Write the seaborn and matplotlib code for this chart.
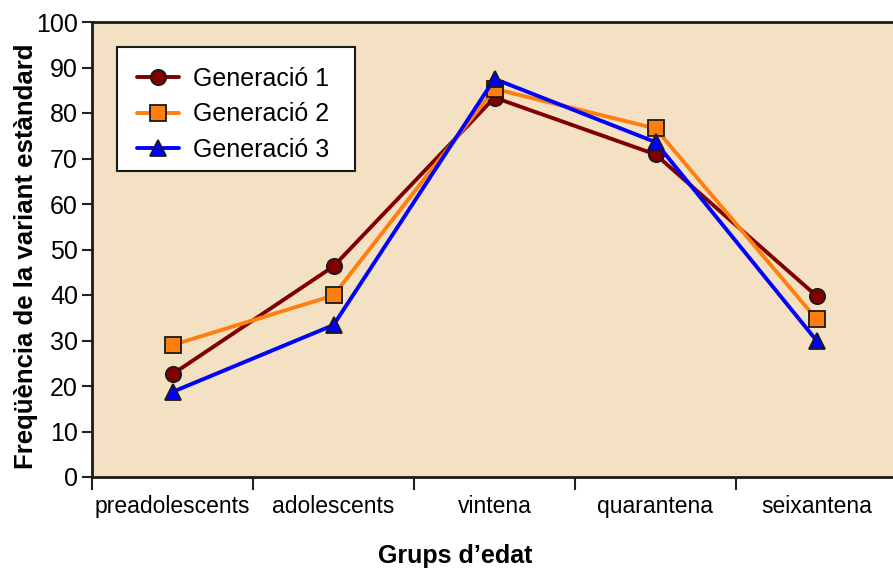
import matplotlib
matplotlib.use("Agg")
import matplotlib.pyplot as plt
import seaborn as sns
import pandas as pd
from matplotlib.ticker import FixedLocator
from matplotlib.lines import Line2D
from matplotlib.patches import Rectangle

categories = ["preadolescents", "adolescents", "vintena", "quarantena", "seixantena"]
gen1 = [22.6, 46.3, 83.4, 70.9, 39.8]
gen2 = [29.0, 39.9, 85.3, 76.6, 34.7]
gen3 = [18.7, 33.4, 87.5, 73.6, 30.0]
series_names = ["Generació 1", "Generació 2", "Generació 3"]
yticks = list(range(0, 101, 10))

rows = []
for name, vals in zip(series_names, [gen1, gen2, gen3]):
    for i, v in enumerate(vals):
        rows.append({"x": i, "y": v, "serie": name})
df = pd.DataFrame(rows)

sns.set_theme(style="white")
plt.rcParams["font.family"] = ["Liberation Sans", "DejaVu Sans"]
plt.rcParams["text.color"] = "black"
plt.rcParams["axes.labelcolor"] = "black"
plt.rcParams["xtick.color"] = "black"
plt.rcParams["ytick.color"] = "black"

fig = plt.figure(figsize=(8.93, 5.68), dpi=100)
ax = fig.add_axes([92/893, 1-477/568, 805/893, 455/568])
ax.set_facecolor("#F4E0C3")

palette = {"Generació 1": "#800000", "Generació 2": "#FF7F0E", "Generació 3": "#0000FF"}
markers = {"Generació 1": "o", "Generació 2": "s", "Generació 3": "^"}
sns.lineplot(data=df, x="x", y="y", hue="serie", style="serie", palette=palette,
             markers=markers, dashes=False, linewidth=2.8, markersize=11,
             markeredgecolor="#1a1a1a", markeredgewidth=1.3, ax=ax, legend=False)

ax.set_xlim(-0.5, 4.5)
ax.set_ylim(0, 100)
ax.set_yticks(yticks)
ax.set_xticks(range(len(categories)))
ax.set_xticklabels(categories)
ax.xaxis.set_minor_locator(FixedLocator([-0.5, 0.5, 1.5, 2.5, 3.5]))
ax.tick_params(axis="x", which="major", length=0, pad=13, labelsize=16.5, labelcolor="black")
ax.tick_params(axis="x", which="minor", length=9, width=1.5, color="#222222", bottom=True)
ax.tick_params(axis="y", which="major", length=7, width=1.5, color="#222222", left=True,
               labelsize=18, pad=3, labelcolor="black")
for s in ["left", "bottom", "top"]:
    ax.spines[s].set_color("#1a1a1a")
    ax.spines[s].set_linewidth(2)
ax.spines["right"].set_visible(False)

ax.set_xlabel("Grups d\u2019edat", fontsize=18, fontweight="bold", labelpad=19)
ax.xaxis.label.set_x(0.451)
ax.set_ylabel("Freqüència de la variant estàndard", fontsize=18.5, fontweight="bold", labelpad=-1)
ax.yaxis.label.set_y(0.486)

# legend frame drawn as a patch (white box with black edge)
ax.add_patch(Rectangle((25/805, 1 - 149/455), 238/805, 124/455, transform=ax.transAxes,
                       facecolor="white", edgecolor="#1a1a1a", linewidth=1.5, zorder=4))

handles = [Line2D([0], [0], color=palette[n], marker=markers[n], lw=2.8, markersize=11,
                  markeredgecolor="#1a1a1a", markeredgewidth=1.3) for n in series_names]
leg = ax.legend(handles, series_names, loc="upper left", bbox_to_anchor=(0.031, 0.945),
                fontsize=18, frameon=False, handlelength=1.7, borderpad=0.8,
                labelspacing=0.45, handletextpad=0.55, borderaxespad=0)
leg.set_zorder(5)

fig.savefig("out.png", dpi=100)
